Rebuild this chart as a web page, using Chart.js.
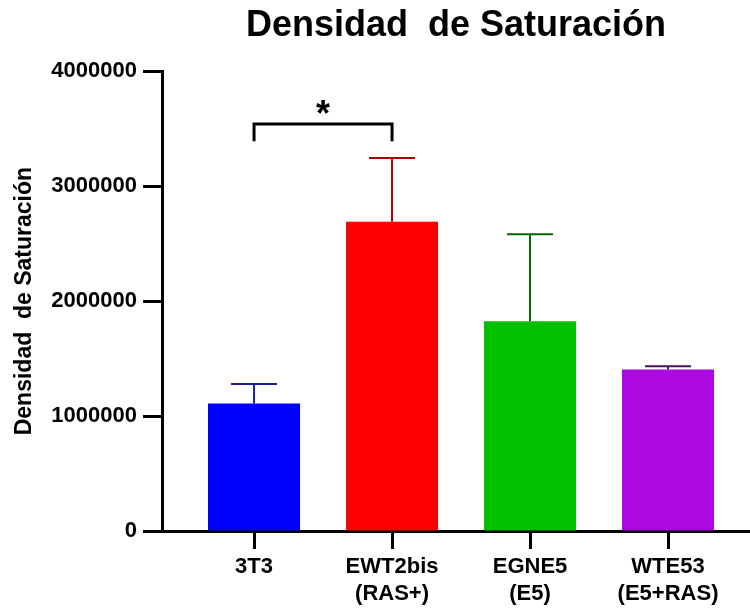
<!DOCTYPE html>
<html><head><meta charset="utf-8">
<script src="https://cdn.jsdelivr.net/npm/chart.js@4"></script>
<style>html,body{margin:0;padding:0;background:#fff}#wrap{width:750px;height:610px;position:relative}</style>
</head><body><div id="wrap"><canvas id="c" width="750" height="610"></canvas></div>
<script>
const categories = [['3T3'], ['EWT2bis', '(RAS+)'], ['EGNE5', '(E5)'], ['WTE53', '(E5+RAS)']];
const values = [1110000, 2690000, 1825000, 1405000];
const errors = [168000, 555000, 757000, 28000];
const yTicks = [0, 1000000, 2000000, 3000000, 4000000];
const barColors = ['#0000FF', '#FF0000', '#00C000', '#AC08E2'];
const errColors = ['#1E1E9A', '#B00000', '#006400', '#46145F'];
const sigPairs = [[0, 1, '*']];
const sigLevel = [3540000];
const sigLeg = [3390000];
const chartTitle = 'Densidad  de Saturación';
const yTitle = 'Densidad  de Saturación';

const FAM = "'Liberation Sans', Arial, sans-serif";

const errorBars = {
  id: 'errorBars',
  afterDatasetsDraw(chart) {
    const meta = chart.getDatasetMeta(0);
    const y = chart.scales.y;
    const ctx = chart.ctx;
    ctx.save();
    meta.data.forEach((el, i) => {
      const yc = y.getPixelForValue(values[i] + errors[i]);
      const hw = el.width / 4;
      ctx.strokeStyle = errColors[i];
      ctx.lineWidth = 2;
      ctx.beginPath();
      ctx.moveTo(el.x, el.y);
      ctx.lineTo(el.x, yc);
      ctx.moveTo(el.x - hw, yc);
      ctx.lineTo(el.x + hw, yc);
      ctx.stroke();
    });
    const x = chart.scales.x;
    ctx.strokeStyle = '#000';
    ctx.fillStyle = '#000';
    ctx.lineWidth = 3;
    sigPairs.forEach((p, k) => {
      const x1 = x.getPixelForValue(p[0]);
      const x2 = x.getPixelForValue(p[1]);
      const yl = y.getPixelForValue(sigLevel[k]);
      const yb = y.getPixelForValue(sigLeg[k]);
      ctx.beginPath();
      ctx.moveTo(x1, yb);
      ctx.lineTo(x1, yl);
      ctx.lineTo(x2, yl);
      ctx.lineTo(x2, yb);
      ctx.stroke();
      ctx.font = 'bold 36px ' + FAM;
      ctx.textAlign = 'center';
      ctx.textBaseline = 'alphabetic';
      ctx.fillText(p[2], (x1 + x2) / 2, yl + 2);
    });
    ctx.restore();
  }
};

new Chart(document.getElementById('c'), {
  type: 'bar',
  data: {
    datasets: [{
      data: values.map((v, i) => ({ x: i, y: v })),
      backgroundColor: barColors,
      borderWidth: 0,
      categoryPercentage: 1,
      barPercentage: 0.667
    }]
  },
  options: {
    responsive: false,
    animation: false,
    devicePixelRatio: 1,
    layout: { padding: 0 },
    plugins: {
      legend: { display: false },
      tooltip: { enabled: false },
      title: {
        display: true,
        text: chartTitle,
        fullSize: false,
        color: '#000',
        font: { size: 36, weight: 'bold', family: FAM },
        padding: { top: 4, bottom: 24 }
      }
    },
    scales: {
      x: {
        type: 'linear',
        offset: false,
        min: -0.667,
        max: 3.594,
        z: 1,
        afterFit: s => { s.height = 79; },
        afterBuildTicks: s => { s.ticks = categories.map((c, i) => ({ value: i })); },
        grid: { offset: false, drawOnChartArea: false, drawTicks: true, tickLength: 18, tickWidth: 3, tickColor: '#000' },
        border: { display: true, color: '#000', width: 3 },
        ticks: {
          color: '#000',
          padding: 5,
          maxRotation: 0,
          autoSkip: false,
          font: { size: 22, weight: 'bold', family: FAM },
          callback: v => categories[v]
        }
      },
      y: {
        min: 0,
        max: 4000000,
        z: 1,
        afterFit: s => { s.width = 162; },
        afterBuildTicks: s => { s.ticks = yTicks.map(v => ({ value: v })); },
        grid: { drawOnChartArea: false, drawTicks: true, tickLength: 19, tickWidth: 3, tickColor: '#000' },
        border: { display: true, color: '#000', width: 3 },
        ticks: {
          color: '#000',
          padding: 6,
          font: { size: 22, weight: 'bold', family: FAM },
          callback: v => String(v)
        },
        title: {
          display: true,
          text: yTitle,
          color: '#000',
          font: { size: 23, weight: 'bold', family: FAM },
          padding: { top: 11, bottom: 0 }
        }
      }
    }
  },
  plugins: [errorBars]
});
</script>
</body></html>
